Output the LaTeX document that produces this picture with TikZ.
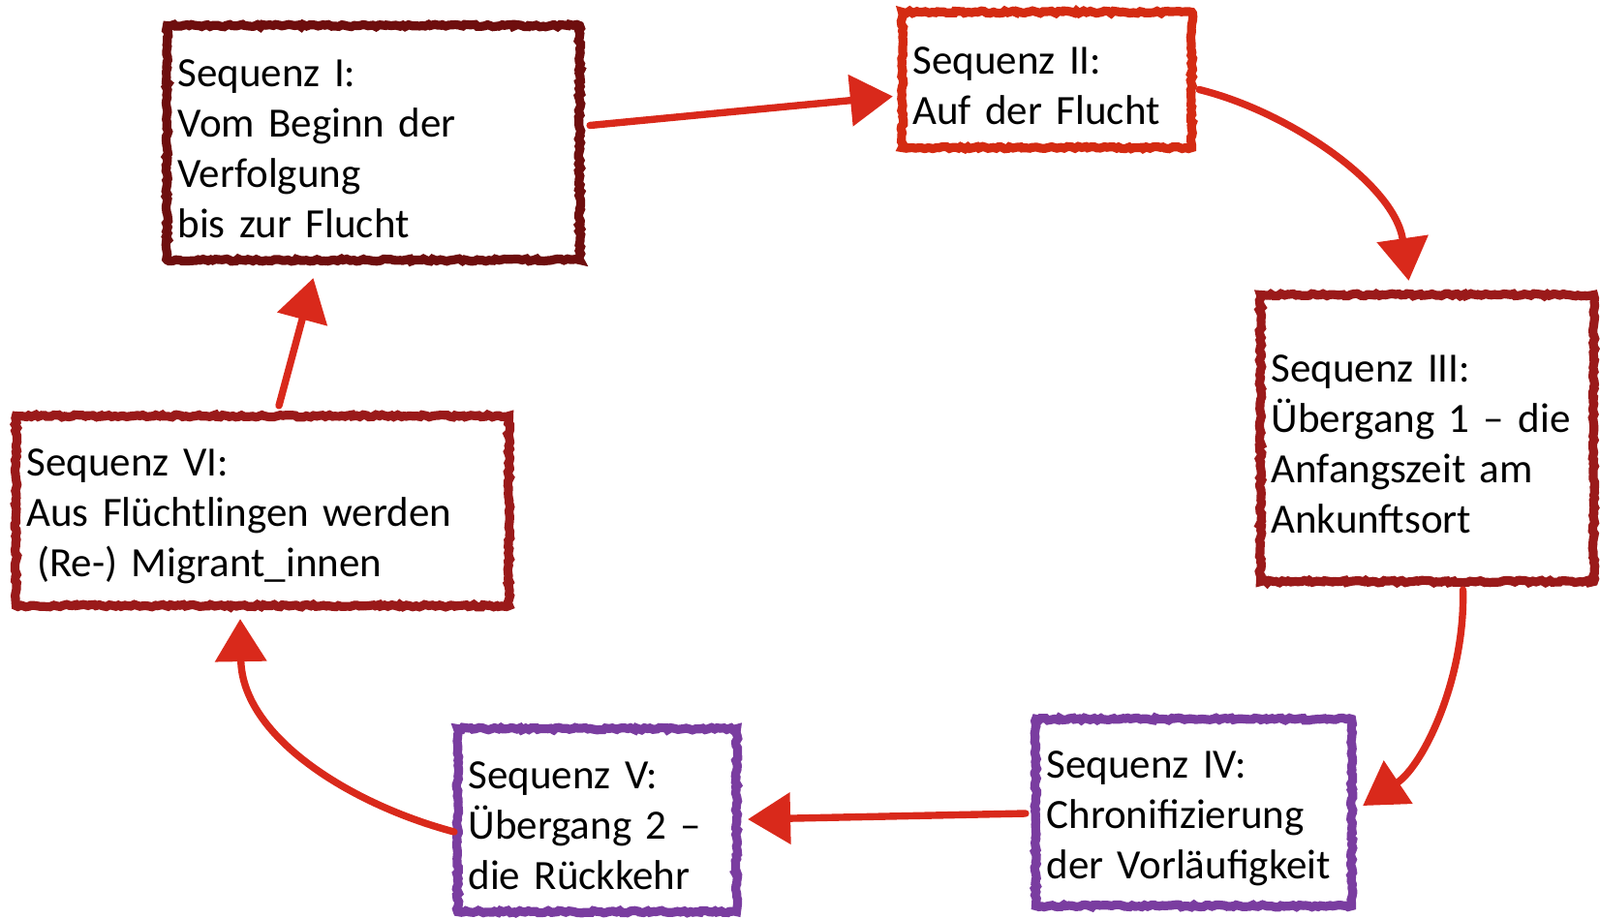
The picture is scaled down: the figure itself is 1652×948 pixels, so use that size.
\documentclass[tikz,border=0pt]{standalone}
\usepackage{fontspec}
\setmainfont{Carlito}
\usetikzlibrary{arrows.meta,decorations.pathmorphing,calc}
\definecolor{cI}{HTML}{6E0E0E}
\definecolor{cII}{HTML}{D42B12}
\definecolor{cIII}{HTML}{9A1A1A}
\definecolor{cpur}{HTML}{7A3DA0}
\definecolor{arrred}{HTML}{D9291B}
\newcommand{\topstrut}{\rule{0pt}{20pt}}
\begin{document}
\begin{tikzpicture}[x=0.5pt,y=-0.5pt,
  seqbox/.style={draw=#1, line width=4.6pt, rectangle, inner xsep=5.5pt, inner ysep=0pt,
    align=left, font=\fontsize{21.5}{26}\selectfont,
    decorate, decoration={random steps, segment length=1.6pt, amplitude=0.65pt}},
  arr/.style={draw=arrred, line width=3.7pt, line cap=round,
    -{Triangle[length=22pt,width=26pt]}}]
\useasboundingbox (0,0) rectangle (1652,948);
\node[seqbox=cI, minimum width=213pt, minimum height=121pt, text width=202pt] (I) at (385.5,147.5)
  {\topstrut Sequenz I:\\Vom Beginn der\\Verfolgung\\bis zur Flucht};
\node[seqbox=cII, minimum width=149.5pt, minimum height=70pt, text width=138.5pt] (II) at (1081,82.5)
  {\topstrut Sequenz II:\\Auf der Flucht};
\node[seqbox=cIII, minimum width=172pt, minimum height=148pt, text width=161pt] (III) at (1473.5,452.5)
  {\topstrut Sequenz III:\\Übergang 1 – die\\Anfangszeit am\\Ankunftsort};
\node[seqbox=cpur, minimum width=163pt, minimum height=96.5pt, text width=152pt] (IV) at (1232.5,839)
  {\topstrut Sequenz IV:\\Chronifizierung\\der Vorläufigkeit};
\node[seqbox=cpur, minimum width=144pt, minimum height=94.5pt, text width=133pt] (V) at (616.5,847)
  {\topstrut Sequenz V:\\Übergang 2 –\\die Rückkehr};
\node[seqbox=cIII, minimum width=254.5pt, minimum height=98pt, text width=243.5pt] (VI) at (271,527.5)
  {\topstrut Sequenz VI:\\Aus Flüchtlingen werden\\\hspace{0.25em}(Re-) Migrant\_innen};
% connectors
\draw[arr] ($(I.east)+(6,-18)$) -- ($(II.west)+(-5,17)$);
\draw[arr] ($(II.east)+(3,10)$) .. controls (1330,115) and (1440,190) .. ($(III.north)+(-19,-10)$);
\draw[arr] ($(III.south)+(37,4)$) .. controls (1513,700) and (1470,790) .. ($(IV.east)+(7,-7)$);
\draw[arr] ($(IV.west)+(-6,1)$) -- ($(V.east)+(7,-1)$);
\draw[arr] ($(V.west)+(1,12)$) .. controls (360,830) and (250,760) .. ($(VI.south)+(-23,9)$);
\draw[arr] ($(VI.north)+(17,-6)$) -- ($(I.south)+(-62,14)$);
\end{tikzpicture}
\end{document}
